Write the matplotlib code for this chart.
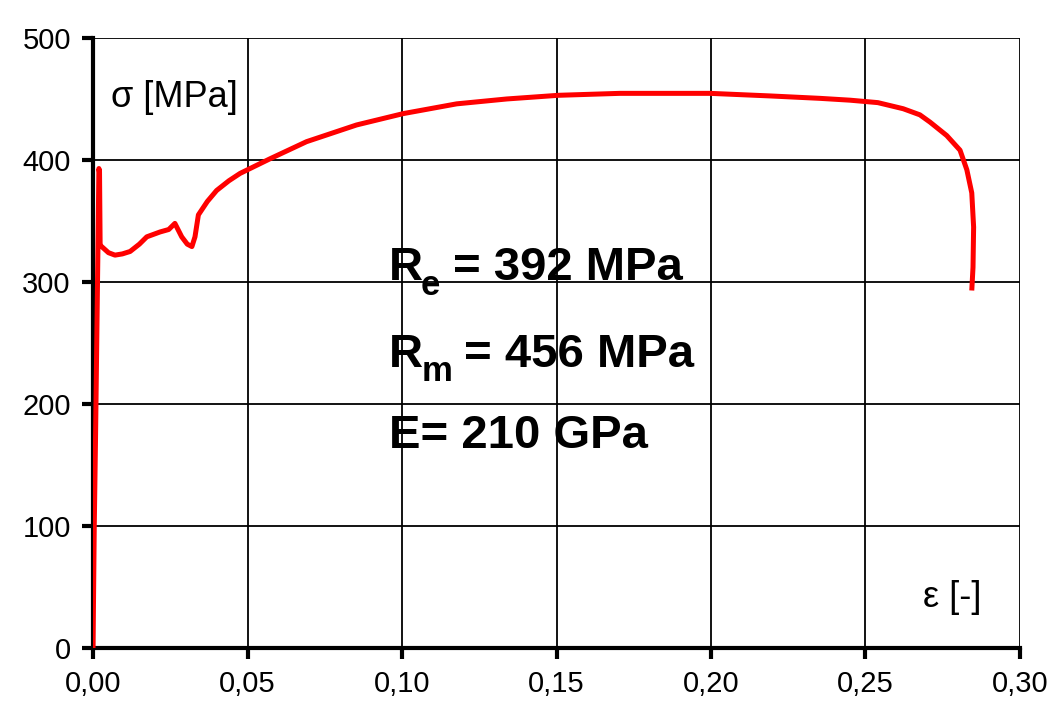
import matplotlib
matplotlib.use("Agg")
import matplotlib.pyplot as plt

strain = [0.0, 0.0004, 0.0008, 0.0012, 0.0016, 0.0019, 0.0021, 0.0023, 0.0028,
          0.0050, 0.0071, 0.0095, 0.0120, 0.0150, 0.0174, 0.0217, 0.0245, 0.0265,
          0.0287, 0.0305, 0.0320, 0.0330, 0.0341, 0.0370, 0.0400, 0.0440, 0.0476,
          0.0573, 0.0691, 0.0853, 0.1004, 0.1177, 0.1339, 0.1506, 0.1705, 0.1997,
          0.2190, 0.2353, 0.2450, 0.2540, 0.2622, 0.2676, 0.2709, 0.2763, 0.2806,
          0.2828, 0.2844, 0.2850, 0.2848, 0.2844]
stress = [0, 100, 170, 250, 330, 393, 390, 330, 329,
          324, 322, 323, 325, 331, 337, 341, 343, 348,
          337, 331, 329, 337, 355, 366, 375, 383, 389,
          401, 415, 428.7, 438, 446, 450, 453, 454.6, 454.6,
          452.5, 450.5, 449, 447, 442, 437, 431, 420, 408,
          392, 373, 345, 312, 293]

xticks = [0.00, 0.05, 0.10, 0.15, 0.20, 0.25, 0.30]
xticklabels = ["0,00", "0,05", "0,10", "0,15", "0,20", "0,25", "0,30"]
yticks = [0, 100, 200, 300, 400, 500]

plt.rcParams['font.family'] = ['Liberation Sans', 'DejaVu Sans']

fig = plt.figure(figsize=(10.5, 7.07), dpi=100)
ax = fig.add_axes([0.0886, 0.0835, 0.8828, 0.8628])

ax.plot(strain, stress, color='#ff0000', lw=3.6, solid_joinstyle='round',
        solid_capstyle='butt', zorder=3)

ax.set_xlim(0, 0.30)
ax.set_ylim(0, 500)
ax.set_xticks(xticks)
ax.set_xticklabels(xticklabels)
ax.set_yticks(yticks)
ax.grid(True, color='black', lw=1.3, zorder=1)
ax.set_axisbelow(True)

for s in ['top', 'right']:
    ax.spines[s].set_visible(False)
for s in ['left', 'bottom']:
    ax.spines[s].set_linewidth(3)
    ax.spines[s].set_color('black')
ax.tick_params(axis='both', direction='out', length=8, width=3, labelsize=21,
               colors='black', pad=8)

ax.text(0.0058, 451, "σ [MPa]", fontsize=26, va='center', ha='left')
ax.text(0.2685, 41, "ε [-]", fontsize=26, va='center', ha='left')

big = dict(fontsize=34, fontweight='bold', ha='left', va='baseline')
sub = dict(fontsize=25, fontweight='bold', ha='left', va='baseline')
ax.text(0.0958, 301.6, "R", **big)
ax.text(0.1060, 289.5, "e", **sub)
ax.text(0.1165, 301.6, "= 392 MPa", **big)
ax.text(0.0958, 230.6, "R", **big)
ax.text(0.1062, 218.5, "m", **sub)
ax.text(0.1200, 230.6, "= 456 MPa", **big)
ax.text(0.0958, 164, "E= 210 GPa", **big)

fig.savefig("out.png", dpi=100)
